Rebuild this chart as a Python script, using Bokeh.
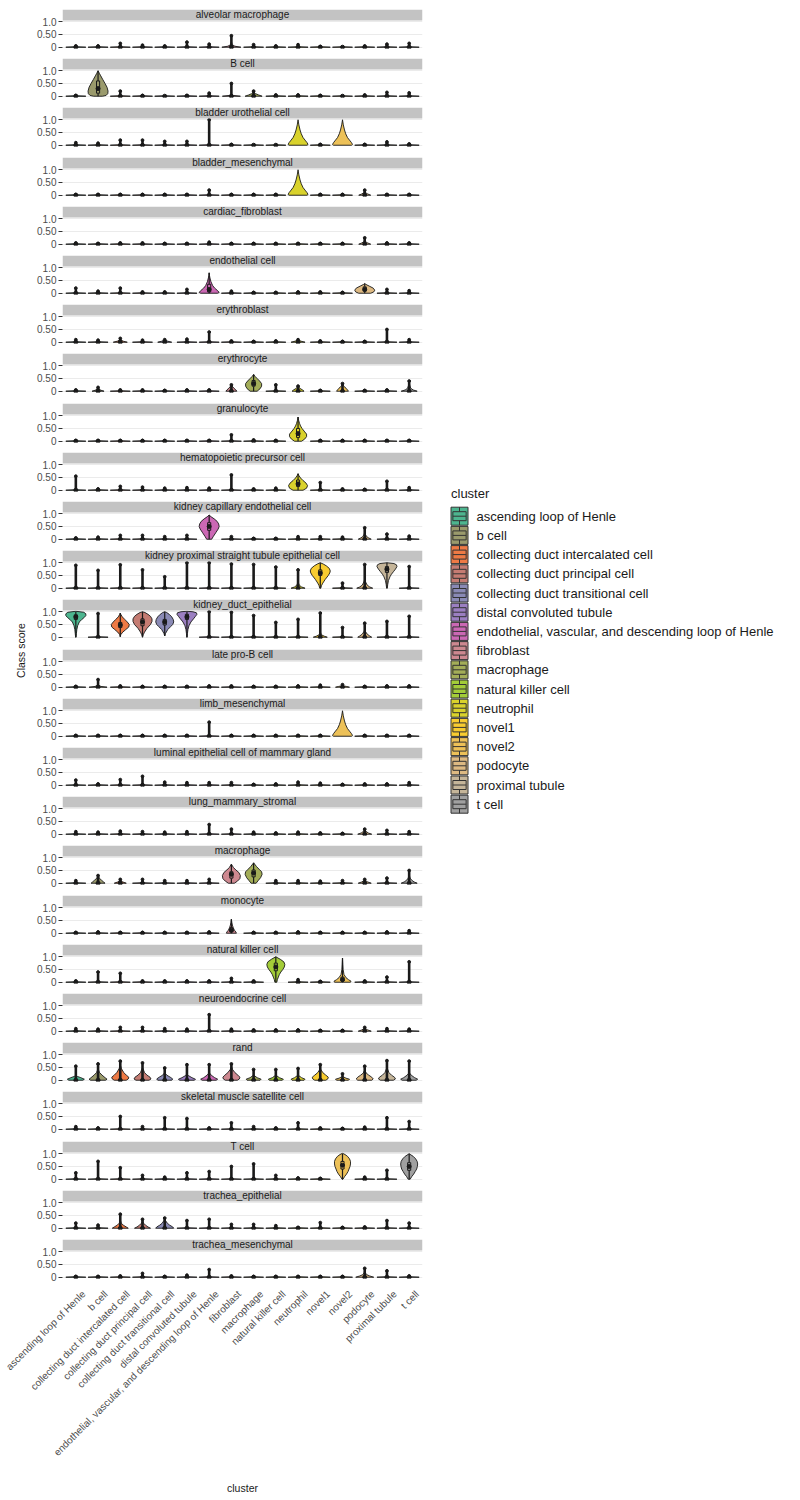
import math
from bokeh.plotting import figure
from bokeh.layouts import column, row
from bokeh.models import Range1d, FixedTicker, BoxAnnotation, Label
from bokeh.core.properties import value
from bokeh.embed import file_html
from bokeh.resources import INLINE

FONT = "Liberation Sans"

panels = [
    "alveolar macrophage", "B cell", "bladder urothelial cell", "bladder_mesenchymal",
    "cardiac_fibroblast", "endothelial cell", "erythroblast", "erythrocyte", "granulocyte",
    "hematopoietic precursor cell", "kidney capillary endothelial cell",
    "kidney proximal straight tubule epithelial cell", "kidney_duct_epithelial",
    "late pro-B cell", "limb_mesenchymal", "luminal epithelial cell of mammary gland",
    "lung_mammary_stromal", "macrophage", "monocyte", "natural killer cell",
    "neuroendocrine cell", "rand", "skeletal muscle satellite cell", "T cell",
    "trachea_epithelial", "trachea_mesenchymal",
]

clusters = [
    "ascending loop of Henle", "b cell", "collecting duct intercalated cell",
    "collecting duct principal cell", "collecting duct transitional cell",
    "distal convoluted tubule", "endothelial, vascular, and descending loop of Henle",
    "fibroblast", "macrophage", "natural killer cell", "neutrophil", "novel1", "novel2",
    "podocyte", "proximal tubule", "t cell",
]

cluster_colors = [
    "#4DB58F", "#9A9A6C", "#EE7A45", "#C57C73", "#8A8AB5", "#9B7FC1", "#CB68B4", "#CD8890",
    "#A3AD58", "#A3CC38", "#D9D22C", "#F8CC30", "#EDC158", "#DDB982", "#C5B599", "#A0A0A0",
]

# highest outlier / whisker end of each cluster in each panel (order of clusters)
spike_top = [
    [0.05, 0.05, 0.15, 0.08, 0.05, 0.20, 0.12, 0.45, 0.10, 0.05, 0.10, 0.03, 0.02, 0.05, 0.12, 0.15],
    [0.03, 1.00, 0.20, 0.03, 0.02, 0.03, 0.12, 0.50, 0.20, 0.05, 0.05, 0.03, 0.02, 0.05, 0.15, 0.13],
    [0.10, 0.08, 0.20, 0.20, 0.15, 0.15, 1.00, 0.03, 0.02, 0.02, 0.00, 0.03, 0.00, 0.03, 0.13, 0.05],
    [0.03, 0.03, 0.03, 0.03, 0.03, 0.03, 0.20, 0.03, 0.03, 0.03, 0.00, 0.03, 0.03, 0.20, 0.03, 0.03],
    [0.05, 0.03, 0.05, 0.05, 0.03, 0.03, 0.08, 0.03, 0.03, 0.03, 0.03, 0.03, 0.03, 0.25, 0.05, 0.05],
    [0.20, 0.08, 0.20, 0.05, 0.05, 0.15, 0.80, 0.08, 0.03, 0.03, 0.05, 0.05, 0.03, 0.38, 0.15, 0.10],
    [0.10, 0.08, 0.15, 0.08, 0.10, 0.12, 0.40, 0.05, 0.03, 0.05, 0.10, 0.05, 0.03, 0.03, 0.50, 0.10],
    [0.05, 0.15, 0.05, 0.05, 0.03, 0.05, 0.05, 0.25, 0.66, 0.25, 0.20, 0.03, 0.30, 0.03, 0.05, 0.40],
    [0.03, 0.03, 0.03, 0.03, 0.03, 0.03, 0.03, 0.25, 0.05, 0.03, 0.95, 0.03, 0.03, 0.03, 0.03, 0.03],
    [0.55, 0.05, 0.15, 0.12, 0.08, 0.10, 0.08, 0.60, 0.05, 0.08, 0.65, 0.30, 0.05, 0.03, 0.35, 0.10],
    [0.05, 0.08, 0.15, 0.15, 0.10, 0.15, 0.95, 0.10, 0.03, 0.03, 0.10, 0.10, 0.08, 0.45, 0.20, 0.12],
    [0.90, 0.70, 0.92, 0.72, 0.45, 1.00, 1.00, 0.95, 0.93, 0.83, 0.72, 1.00, 0.20, 0.93, 1.00, 0.85],
    [1.00, 0.93, 0.95, 1.00, 1.00, 1.00, 1.00, 0.98, 0.85, 0.58, 0.70, 0.95, 0.38, 0.55, 0.62, 0.82],
    [0.03, 0.30, 0.05, 0.03, 0.03, 0.03, 0.05, 0.05, 0.03, 0.03, 0.05, 0.08, 0.10, 0.03, 0.05, 0.05],
    [0.03, 0.03, 0.03, 0.03, 0.03, 0.03, 0.55, 0.03, 0.03, 0.03, 0.03, 0.03, 0.00, 0.03, 0.03, 0.03],
    [0.20, 0.05, 0.22, 0.35, 0.12, 0.10, 0.10, 0.10, 0.03, 0.05, 0.12, 0.08, 0.03, 0.05, 0.05, 0.10],
    [0.10, 0.08, 0.12, 0.10, 0.08, 0.10, 0.38, 0.20, 0.08, 0.05, 0.08, 0.05, 0.03, 0.20, 0.15, 0.10],
    [0.10, 0.30, 0.15, 0.15, 0.10, 0.10, 0.15, 0.75, 0.80, 0.10, 0.10, 0.08, 0.10, 0.15, 0.20, 0.50],
    [0.03, 0.05, 0.03, 0.03, 0.03, 0.03, 0.05, 0.55, 0.03, 0.03, 0.05, 0.03, 0.03, 0.03, 0.05, 0.10],
    [0.05, 0.40, 0.35, 0.05, 0.05, 0.05, 0.05, 0.15, 0.05, 1.00, 0.10, 0.03, 0.95, 0.05, 0.20, 0.80],
    [0.10, 0.08, 0.15, 0.15, 0.10, 0.08, 0.65, 0.08, 0.05, 0.05, 0.05, 0.03, 0.03, 0.15, 0.10, 0.08],
    [0.55, 0.64, 0.75, 0.68, 0.48, 0.61, 0.61, 0.64, 0.42, 0.42, 0.46, 0.61, 0.25, 0.55, 0.77, 0.75],
    [0.10, 0.05, 0.50, 0.10, 0.45, 0.42, 0.05, 0.25, 0.10, 0.05, 0.25, 0.05, 0.03, 0.08, 0.45, 0.30],
    [0.25, 0.70, 0.45, 0.15, 0.08, 0.25, 0.30, 0.50, 0.60, 0.15, 0.05, 0.03, 1.00, 0.08, 0.35, 1.00],
    [0.20, 0.12, 0.55, 0.35, 0.40, 0.30, 0.35, 0.15, 0.15, 0.10, 0.03, 0.22, 0.03, 0.05, 0.30, 0.20],
    [0.03, 0.03, 0.05, 0.15, 0.03, 0.08, 0.30, 0.05, 0.03, 0.03, 0.03, 0.03, 0.03, 0.35, 0.25, 0.05],
]

# violin outlines: (panel, cluster, score levels, relative half widths, box q1/median/q3)
violins = [
    ("alveolar macrophage", "fibroblast", [0, 0.04, 0.1, 0.2], [0.95, 0.35, 0.08, 0.02], None),
    ("B cell", "b cell", [0, 0.03, 0.1, 0.2, 0.35, 0.5, 0.65, 0.8, 0.9, 1.0],
     [0.45, 0.8, 0.97, 1.0, 0.9, 0.7, 0.48, 0.27, 0.13, 0.0], (0.12, 0.3, 0.6)),
    ("B cell", "fibroblast", [0, 0.03, 0.08], [0.9, 0.2, 0.02], None),
    ("B cell", "macrophage", [0, 0.05, 0.1, 0.15, 0.2], [0.85, 0.5, 0.2, 0.06, 0.0], None),
    ("bladder urothelial cell", "neutrophil", [0, 0.03, 0.1, 0.2, 0.3, 0.45, 0.6, 0.8, 1.0],
     [0.9, 1.0, 0.9, 0.7, 0.5, 0.32, 0.2, 0.08, 0.0], None),
    ("bladder urothelial cell", "novel2", [0, 0.03, 0.1, 0.2, 0.3, 0.45, 0.6, 0.8, 1.0],
     [0.9, 1.0, 0.9, 0.7, 0.5, 0.32, 0.2, 0.08, 0.0], None),
    ("bladder_mesenchymal", "neutrophil", [0, 0.03, 0.1, 0.2, 0.3, 0.45, 0.6, 0.8, 1.0],
     [0.9, 1.0, 0.9, 0.7, 0.5, 0.32, 0.2, 0.08, 0.0], None),
    ("bladder_mesenchymal", "podocyte", [0, 0.05, 0.1, 0.2], [0.6, 0.3, 0.08, 0.0], None),
    ("cardiac_fibroblast", "podocyte", [0, 0.05, 0.1, 0.2], [0.6, 0.3, 0.08, 0.0], None),
    ("endothelial cell", "endothelial, vascular, and descending loop of Henle",
     [0, 0.03, 0.1, 0.2, 0.3, 0.45, 0.6, 0.7, 0.8], [0.85, 1.0, 0.85, 0.55, 0.35, 0.18, 0.08, 0.03, 0.0],
     (0.05, 0.15, 0.35)),
    ("endothelial cell", "podocyte", [0, 0.05, 0.12, 0.2, 0.28, 0.35, 0.38],
     [0.6, 0.9, 1.0, 0.85, 0.45, 0.1, 0.0], (0.08, 0.15, 0.25)),
    ("erythroblast", "collecting duct intercalated cell", [0, 0.04, 0.1], [0.7, 0.3, 0.0], None),
    ("erythroblast", "collecting duct transitional cell", [0, 0.04, 0.1], [0.7, 0.3, 0.0], None),
    ("erythroblast", "neutrophil", [0, 0.04, 0.1], [0.7, 0.3, 0.0], None),
    ("erythrocyte", "b cell", [0, 0.05, 0.15], [0.6, 0.2, 0.0], None),
    ("erythrocyte", "fibroblast", [0, 0.05, 0.12, 0.2, 0.25], [0.55, 0.45, 0.25, 0.08, 0.0], None),
    ("erythrocyte", "macrophage", [0, 0.1, 0.2, 0.3, 0.4, 0.5, 0.58, 0.66],
     [0.35, 0.65, 0.8, 0.8, 0.6, 0.35, 0.15, 0.0], (0.2, 0.3, 0.42)),
    ("erythrocyte", "neutrophil", [0, 0.05, 0.12, 0.2], [0.6, 0.45, 0.15, 0.0], None),
    ("erythrocyte", "novel2", [0, 0.05, 0.12, 0.2, 0.3], [0.6, 0.5, 0.35, 0.12, 0.0], None),
    ("erythrocyte", "t cell", [0, 0.05, 0.12, 0.25, 0.4], [0.8, 0.4, 0.15, 0.05, 0.0], None),
    ("granulocyte", "neutrophil", [0, 0.08, 0.18, 0.28, 0.4, 0.5, 0.6, 0.7, 0.82, 0.95],
     [0.35, 0.65, 0.85, 0.85, 0.6, 0.4, 0.25, 0.15, 0.06, 0.0], (0.15, 0.3, 0.5)),
    ("hematopoietic precursor cell", "neutrophil", [0, 0.08, 0.18, 0.28, 0.38, 0.48, 0.58, 0.65],
     [0.5, 0.85, 0.95, 0.8, 0.5, 0.25, 0.08, 0.0], (0.15, 0.25, 0.4)),
    ("kidney capillary endothelial cell", "endothelial, vascular, and descending loop of Henle",
     [0, 0.1, 0.25, 0.4, 0.5, 0.6, 0.7, 0.8, 0.88, 0.95],
     [0.25, 0.4, 0.65, 0.9, 1.0, 0.95, 0.8, 0.5, 0.2, 0.0], (0.35, 0.5, 0.65)),
    ("kidney capillary endothelial cell", "podocyte", [0, 0.05, 0.1, 0.2, 0.3],
     [0.65, 0.4, 0.2, 0.05, 0.0], None),
    ("kidney proximal straight tubule epithelial cell", "neutrophil", [0, 0.05, 0.12, 0.25],
     [0.7, 0.35, 0.12, 0.0], None),
    ("kidney proximal straight tubule epithelial cell", "novel1",
     [0, 0.1, 0.2, 0.35, 0.5, 0.6, 0.68, 0.78, 0.88, 0.95, 1.0],
     [0.05, 0.12, 0.25, 0.5, 0.8, 0.95, 1.0, 0.9, 0.6, 0.3, 0.0], (0.5, 0.6, 0.72)),
    ("kidney proximal straight tubule epithelial cell", "podocyte", [0, 0.05, 0.12, 0.25, 0.35],
     [0.8, 0.5, 0.25, 0.08, 0.0], None),
    ("kidney proximal straight tubule epithelial cell", "proximal tubule",
     [0, 0.15, 0.3, 0.45, 0.55, 0.65, 0.75, 0.85, 0.92, 0.97, 1.0],
     [0.03, 0.08, 0.15, 0.3, 0.45, 0.65, 0.85, 1.0, 0.95, 0.7, 0.0], (0.62, 0.75, 0.85)),
    ("kidney_duct_epithelial", "ascending loop of Henle",
     [0, 0.15, 0.3, 0.45, 0.6, 0.7, 0.78, 0.85, 0.92, 0.98, 1.02],
     [0.02, 0.06, 0.1, 0.18, 0.35, 0.6, 0.85, 1.0, 1.0, 0.8, 0.0], (0.7, 0.8, 0.88)),
    ("kidney_duct_epithelial", "collecting duct intercalated cell",
     [0.02, 0.1, 0.2, 0.3, 0.4, 0.5, 0.6, 0.7, 0.8, 0.9, 0.95],
     [0.0, 0.05, 0.25, 0.55, 0.85, 0.9, 0.7, 0.45, 0.2, 0.05, 0.0], (0.38, 0.48, 0.58)),
    ("kidney_duct_epithelial", "collecting duct principal cell",
     [0, 0.1, 0.2, 0.35, 0.5, 0.62, 0.72, 0.82, 0.9, 0.97, 1.0],
     [0.0, 0.08, 0.2, 0.45, 0.8, 0.95, 0.95, 0.8, 0.55, 0.25, 0.0], (0.45, 0.6, 0.72)),
    ("kidney_duct_epithelial", "collecting duct transitional cell",
     [0.05, 0.15, 0.3, 0.42, 0.5, 0.6, 0.7, 0.8, 0.9, 0.97, 1.0],
     [0.0, 0.08, 0.3, 0.6, 0.8, 0.9, 0.85, 0.7, 0.45, 0.2, 0.0], (0.48, 0.6, 0.7)),
    ("kidney_duct_epithelial", "distal convoluted tubule",
     [0, 0.15, 0.3, 0.45, 0.6, 0.72, 0.82, 0.9, 0.96, 1.0, 1.02],
     [0.02, 0.05, 0.1, 0.2, 0.4, 0.65, 0.85, 1.0, 0.95, 0.6, 0.0], (0.7, 0.8, 0.9)),
    ("kidney_duct_epithelial", "novel1", [0, 0.04, 0.1, 0.2], [0.7, 0.4, 0.1, 0.02], None),
    ("kidney_duct_epithelial", "podocyte", [0, 0.05, 0.12, 0.22, 0.3], [0.7, 0.5, 0.25, 0.08, 0.0], None),
    ("late pro-B cell", "b cell", [0, 0.03, 0.08], [0.9, 0.3, 0.03], None),
    ("late pro-B cell", "novel2", [0, 0.03, 0.06], [0.7, 0.4, 0.0], None),
    ("limb_mesenchymal", "novel2", [0, 0.03, 0.1, 0.2, 0.3, 0.45, 0.6, 0.8, 1.0],
     [0.9, 1.0, 0.9, 0.7, 0.5, 0.32, 0.2, 0.08, 0.0], None),
    ("lung_mammary_stromal", "podocyte", [0, 0.05, 0.12, 0.2], [0.7, 0.35, 0.1, 0.0], None),
    ("macrophage", "b cell", [0, 0.05, 0.12, 0.2, 0.3], [0.7, 0.55, 0.35, 0.12, 0.0], None),
    ("macrophage", "collecting duct intercalated cell", [0, 0.05, 0.12], [0.6, 0.25, 0.0], None),
    ("macrophage", "fibroblast", [0, 0.08, 0.18, 0.3, 0.42, 0.52, 0.62, 0.75],
     [0.3, 0.6, 0.85, 0.9, 0.75, 0.45, 0.2, 0.0], (0.2, 0.35, 0.45)),
    ("macrophage", "macrophage", [0, 0.1, 0.22, 0.35, 0.45, 0.55, 0.65, 0.8],
     [0.25, 0.45, 0.7, 0.85, 0.8, 0.55, 0.3, 0.0], (0.25, 0.4, 0.52)),
    ("macrophage", "podocyte", [0, 0.05, 0.12], [0.65, 0.3, 0.0], None),
    ("macrophage", "t cell", [0, 0.05, 0.12, 0.2, 0.3], [0.8, 0.5, 0.25, 0.1, 0.02], None),
    ("monocyte", "fibroblast", [0, 0.05, 0.12, 0.22, 0.32, 0.42, 0.55],
     [0.5, 0.45, 0.3, 0.18, 0.1, 0.05, 0.0], (0.05, 0.12, 0.22)),
    ("natural killer cell", "natural killer cell", [0, 0.1, 0.2, 0.3, 0.4, 0.5, 0.6, 0.7, 0.8, 0.9, 1.0],
     [0.1, 0.15, 0.25, 0.35, 0.5, 0.7, 0.85, 0.9, 0.8, 0.45, 0.0], (0.45, 0.6, 0.75)),
    ("natural killer cell", "novel2", [0, 0.04, 0.1, 0.18, 0.3, 0.5, 0.7, 0.95],
     [0.8, 0.85, 0.6, 0.35, 0.15, 0.06, 0.03, 0.0], (0.05, 0.1, 0.2)),
    ("neuroendocrine cell", "podocyte", [0, 0.05, 0.12], [0.65, 0.3, 0.0], None),
    ("rand", "ascending loop of Henle", [0, 0.04, 0.1, 0.15, 0.2], [0.7, 0.85, 0.5, 0.15, 0.0], None),
    ("rand", "b cell", [0, 0.04, 0.1, 0.2, 0.3, 0.45], [0.75, 0.9, 0.7, 0.4, 0.15, 0.0], None),
    ("rand", "collecting duct intercalated cell", [0, 0.05, 0.12, 0.2, 0.3, 0.45, 0.6],
     [0.6, 0.8, 0.85, 0.6, 0.35, 0.12, 0.0], None),
    ("rand", "collecting duct principal cell", [0, 0.05, 0.12, 0.2, 0.3, 0.5],
     [0.65, 0.85, 0.75, 0.45, 0.2, 0.0], None),
    ("rand", "collecting duct transitional cell", [0, 0.05, 0.12, 0.2, 0.3], [0.7, 0.8, 0.55, 0.2, 0.0], None),
    ("rand", "distal convoluted tubule", [0, 0.04, 0.1, 0.18, 0.25], [0.75, 0.85, 0.5, 0.15, 0.0], None),
    ("rand", "endothelial, vascular, and descending loop of Henle", [0, 0.04, 0.1, 0.2, 0.3],
     [0.7, 0.85, 0.55, 0.2, 0.0], None),
    ("rand", "fibroblast", [0, 0.05, 0.12, 0.2, 0.3, 0.42, 0.55], [0.6, 0.8, 0.85, 0.65, 0.35, 0.12, 0.0], None),
    ("rand", "macrophage", [0, 0.04, 0.1, 0.2], [0.65, 0.75, 0.35, 0.0], None),
    ("rand", "natural killer cell", [0, 0.04, 0.1, 0.2], [0.65, 0.75, 0.35, 0.0], None),
    ("rand", "neutrophil", [0, 0.04, 0.1, 0.2], [0.6, 0.7, 0.35, 0.0], None),
    ("rand", "novel1", [0, 0.05, 0.12, 0.2, 0.3, 0.45], [0.55, 0.75, 0.8, 0.55, 0.25, 0.0], None),
    ("rand", "novel2", [0, 0.04, 0.08, 0.15], [0.6, 0.7, 0.35, 0.0], None),
    ("rand", "podocyte", [0, 0.05, 0.12, 0.2, 0.28, 0.4], [0.7, 0.85, 0.7, 0.4, 0.15, 0.0], None),
    ("rand", "proximal tubule", [0, 0.05, 0.12, 0.2, 0.3, 0.5], [0.65, 0.85, 0.75, 0.45, 0.2, 0.0], None),
    ("rand", "t cell", [0, 0.04, 0.1, 0.2, 0.3], [0.7, 0.85, 0.55, 0.2, 0.0], None),
    ("T cell", "novel2", [0, 0.1, 0.2, 0.3, 0.4, 0.5, 0.6, 0.7, 0.8, 0.9, 0.97, 1.02],
     [0.05, 0.2, 0.4, 0.55, 0.65, 0.75, 0.8, 0.8, 0.7, 0.5, 0.25, 0.0], (0.4, 0.55, 0.7)),
    ("T cell", "t cell", [0, 0.1, 0.2, 0.3, 0.4, 0.5, 0.6, 0.7, 0.8, 0.9, 1.0],
     [0.1, 0.25, 0.45, 0.6, 0.75, 0.82, 0.85, 0.8, 0.65, 0.4, 0.0], (0.35, 0.5, 0.65)),
    ("trachea_epithelial", "collecting duct intercalated cell", [0, 0.05, 0.12, 0.2, 0.3],
     [0.8, 0.6, 0.3, 0.1, 0.02], None),
    ("trachea_epithelial", "collecting duct principal cell", [0, 0.05, 0.12, 0.2, 0.3],
     [0.8, 0.55, 0.3, 0.1, 0.02], None),
    ("trachea_epithelial", "collecting duct transitional cell", [0, 0.05, 0.12, 0.2, 0.3, 0.38],
     [0.9, 0.8, 0.5, 0.25, 0.08, 0.0], None),
    ("trachea_mesenchymal", "podocyte", [0, 0.05, 0.1, 0.18, 0.3], [0.9, 0.5, 0.2, 0.05, 0.0], None),
]

# flat outline of a violin whose cells nearly all score 0
base_y = [0.0, 0.02]
base_w = [1.0, 0.0]

vmap = {(pn, cn): (vy, vw, bx) for pn, cn, vy, vw, bx in violins}

HALF = 0.45
INK = "#1A1A1A"
PERIOD = 49.2
N = len(panels)
TOP_PAD = 8
# page y where every facet block starts
block_top = [0] + [TOP_PAD + round(PERIOD * i) for i in range(1, N)] + [TOP_PAD + round(PERIOD * N)]
heights = [block_top[i + 1] - block_top[i] for i in range(N)]
PANELS_H = block_top[-1]
TOTAL_H = 1498
LABELS_H = TOTAL_H - PANELS_H
FRAME_H = 39
STRIP_TOP = 1.05 + 11 / 25.46
YLAB_W = 32
PANEL_W = 396
BORDER_L = 30
X0, X1 = 0.4, 16.6
PX = 360 / (X1 - X0)

figs = []
for pi, pname in enumerate(panels):
    h = heights[pi]
    btop = 9 if pi == 0 else 1
    p = figure(width=PANEL_W, height=h, x_range=Range1d(X0, X1), y_range=Range1d(-0.05, STRIP_TOP),
               output_backend="svg", toolbar_location=None, x_axis_location=None,
               min_border_left=BORDER_L, min_border_right=6, min_border_top=btop,
               min_border_bottom=h - btop - FRAME_H, outline_line_color=None,
               background_fill_color="white", border_fill_color="white")
    p.xgrid.visible = False
    p.yaxis.ticker = FixedTicker(ticks=[0, 0.5, 1.0])
    p.yaxis.major_label_overrides = {0: "0", 0.5: "0.50", 1: "1.0"}
    p.yaxis.axis_line_color = None
    p.yaxis.major_tick_in = 0
    p.yaxis.major_tick_out = 4
    p.yaxis.major_tick_line_color = "#333333"
    p.yaxis.minor_tick_line_color = None
    p.yaxis.major_label_standoff = 2
    p.yaxis.major_label_text_font = FONT
    p.yaxis.major_label_text_font_size = "10px"
    p.yaxis.major_label_text_color = "#4D4D4D"
    p.ygrid.grid_line_color = "#EBEBEB"
    p.ygrid.grid_line_width = 1.2

    xs, ys, fills = [], [], []
    sx, sy0, sy1 = [], [], []
    tx, ty = [], []
    mx, my = [], []
    wx, wy0, wy1 = [], [], []
    bl, br, bb, bt, bf = [], [], [], [], []
    for ci, cname in enumerate(clusters):
        c = ci + 1
        prof = vmap.get((pname, cname))
        vy, vw, box = prof if prof else (base_y, base_w, None)
        xs.append([c - HALF * w for w in vw] + [c + HALF * w for w in reversed(vw)])
        ys.append(list(vy) + list(reversed(vy)))
        fills.append(cluster_colors[ci])
        top = spike_top[pi][ci]
        if box is None:
            if top > 0.025:
                sx.append(c); sy0.append(0.0); sy1.append(top)
                tx.append(c); ty.append(top)
            if top > 0 or prof is None:
                mx.append(c); my.append(0.0)
        else:
            q1, med, q3 = box
            wx += [c, c]; wy0 += [vy[0], q3]; wy1 += [q1, top]
            bl.append(c - 0.07); br.append(c + 0.07); bb.append(q1); bt.append(q3); bf.append(cluster_colors[ci])
            mx.append(c); my.append(med)

    p.patches(xs=xs, ys=ys, fill_color=fills, line_color=INK, line_width=0.9)
    if wx:
        p.segment(x0=wx, y0=wy0, x1=wx, y1=wy1, line_color=INK, line_width=1.2)
        p.quad(left=bl, right=br, bottom=bb, top=bt, fill_color=bf, line_color=INK, line_width=1)
    if sx:
        p.segment(x0=sx, y0=sy0, x1=sx, y1=sy1, line_color=INK, line_width=2.6)
        p.scatter(x=tx, y=ty, size=2.8, color=INK)
    p.scatter(x=mx, y=my, size=4, color=INK)

    p.add_layout(BoxAnnotation(bottom=1.05, fill_color="#C3C3C3", fill_alpha=1.0, line_color=None))
    p.add_layout(Label(x=(X0 + X1) / 2, y=(1.05 + STRIP_TOP) / 2, text=pname, text_align="center",
                       text_baseline="middle", text_font=FONT, text_font_size="10px",
                       text_color="#1A1A1A"))
    figs.append(p)

# x tick labels and x title, on the same scale as the facets
LAB_W = YLAB_W + PANEL_W
labfig = figure(width=LAB_W, height=LABELS_H,
                x_range=Range1d(X0 - (YLAB_W + BORDER_L) / PX, X1 + 6 / PX),
                y_range=Range1d(LABELS_H, 0), output_backend="svg", toolbar_location=None,
                x_axis_location=None, y_axis_location=None, min_border=0, outline_line_color=None)
labfig.grid.visible = False
cx = [i + 1 for i in range(len(clusters))]
labfig.text(x=cx, y=[1] * len(cx), text=clusters, angle=math.pi / 4, x_offset=4,
            text_align="right", text_baseline="top", text_font=value(FONT),
            text_font_size="10px", text_color="#4D4D4D")
labfig.text(x=[(X0 + X1) / 2], y=[200], text=["cluster"], text_align="center", text_baseline="middle",
            text_font=value(FONT), text_font_size="10.5px", text_color="#1A1A1A")

# y axis title
ylab = figure(width=YLAB_W, height=PANELS_H, x_range=Range1d(0, YLAB_W), y_range=Range1d(PANELS_H, 0),
              output_backend="svg", toolbar_location=None, x_axis_location=None,
              y_axis_location=None, min_border=0, outline_line_color=None)
ylab.grid.visible = False
ylab.text(x=[20], y=[650], text=["Class score"], angle=math.pi / 2, text_align="center",
          text_baseline="middle", text_font=value(FONT), text_font_size="10.5px", text_color="#1A1A1A")

# legend
LW = 362
leg = figure(width=LW, height=TOTAL_H, x_range=Range1d(0, LW), y_range=Range1d(TOTAL_H, 0),
             output_backend="svg", toolbar_location=None, x_axis_location=None,
             y_axis_location=None, min_border=0, outline_line_color=None)
leg.grid.visible = False
KEY_X, KEY_W, KEY_H, KEY_Y0, STEP = 31.0, 17.0, 18.0, 515.7, 19.2
ky = [KEY_Y0 + STEP * i for i in range(len(clusters))]
kx = [KEY_X] * len(clusters)
leg.rect(x=kx, y=ky, width=KEY_W, height=KEY_H, fill_color=cluster_colors, line_color="#333333", line_width=1)
leg.rect(x=kx, y=ky, width=KEY_W * 0.78, height=KEY_H * 0.5, fill_color=cluster_colors,
         line_color="#333333", line_width=1)
leg.segment(x0=[KEY_X - KEY_W * 0.39] * len(ky), y0=ky, x1=[KEY_X + KEY_W * 0.39] * len(ky), y1=ky,
            line_color="#333333", line_width=1)
leg.segment(x0=kx, y0=[y - KEY_H / 2 for y in ky], x1=kx, y1=[y - KEY_H / 4 for y in ky],
            line_color="#333333", line_width=1)
leg.segment(x0=kx, y0=[y + KEY_H / 4 for y in ky], x1=kx, y1=[y + KEY_H / 2 for y in ky],
            line_color="#333333", line_width=1)
leg.text(x=[KEY_X + 17] * len(ky), y=ky, text=clusters, text_baseline="middle", text_align="left",
         text_font=value(FONT), text_font_size="13px", text_color="#1A1A1A")
leg.text(x=[KEY_X - 8.5], y=[493], text=["cluster"], text_baseline="middle", text_align="left",
         text_font=value(FONT), text_font_size="13px", text_color="#1A1A1A")

left = column(row(ylab, column(*figs)), labfig)
layout = row(left, leg)
open("out.html", "w").write(file_html(layout, INLINE))
